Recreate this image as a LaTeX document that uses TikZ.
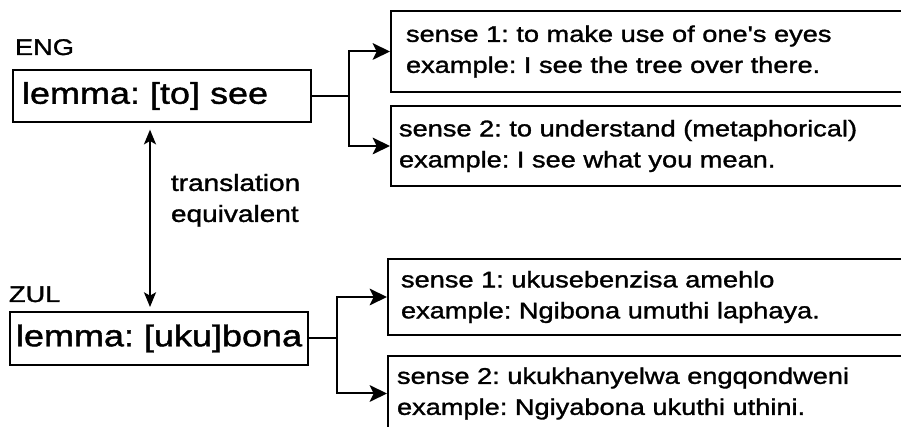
\documentclass[tikz,border=0pt]{standalone}
\usepackage{fontspec}
\setmainfont{Liberation Sans}[FakeStretch=1.2,FakeBold=1.4,Ligatures=TeXOff]
\usetikzlibrary{arrows.meta}
\usetikzlibrary{calc}

\begin{document}
\frenchspacing
\begin{tikzpicture}[x=0.75pt,y=-0.75pt,line width=1.5pt,
    box/.style={draw,anchor=north west,align=left,inner ysep=0pt},
    lemmabox/.style={box,font=\fontsize{22.5}{27}\selectfont},
    sensebox/.style={box,font=\fontsize{17}{23.25}\selectfont},
    langlabel/.style={anchor=base west,inner sep=0pt,font=\fontsize{17}{20}\selectfont},
    senseto/.style={-{Stealth[length=13pt,width=12.5pt,inset=3pt]}},
    twoway/.style={{Stealth[length=11pt,width=9pt,inset=2.5pt]}-{Stealth[length=11pt,width=9pt,inset=2.5pt]}}]
    \useasboundingbox (0,0) rectangle (901,427);
    \clip (0,0) rectangle (901,427);

    % English side
    \node[langlabel] (englabel) at (14,55) {ENG};
    \node[lemmabox,inner xsep=6.75pt,text width=210pt,minimum height=39pt] (englemma) at (12,69) {lemma: [to] see};
    \node[sensebox,inner xsep=11.25pt,text width=405pt,minimum height=60.75pt] (engsenseA) at (390,10)
        {sense 1: to make use of one's eyes\\example: I see the tree over there.};
    \node[sensebox,inner xsep=6pt,text width=415pt,minimum height=60pt] (engsenseB) at (390,105)
        {sense 2: to understand (metaphorical)\\example: I see what you mean.};

    \coordinate (engfork) at ($(englemma.east)+(37,0)$);
    \draw (englemma.east) -- (engfork);
    \draw[senseto] (engfork) |- (engsenseA.west);
    \draw[senseto] (engfork) |- (engsenseB.west);

    % Zulu side
    \node[langlabel] (zullabel) at (8,302) {ZUL};
    \node[lemmabox,inner xsep=4.5pt,text width=214.5pt,minimum height=39.75pt] (zullemma) at (9,311) {\mbox{lemma: [uku]bona}};
    \node[sensebox,inner xsep=9.75pt,text width=408pt,minimum height=57pt] (zulsenseA) at (387,258)
        {sense 1: ukusebenzisa amehlo\\example: Ngibona umuthi laphaya.};
    \node[sensebox,inner xsep=6.75pt,text width=414pt,minimum height=56.25pt] (zulsenseB) at (387,355)
        {sense 2: ukukhanyelwa engqondweni\\example: Ngiyabona ukuthi uthini.};

    \coordinate (zulfork) at ($(zullemma.east)+(28,0)$);
    \draw (zullemma.east) -- (zulfork);
    \draw[senseto] (zulfork) |- (zulsenseA.west);
    \draw[senseto] (zulfork) |- (zulsenseB.west);

    % translation link
    \draw[twoway,shorten <=5pt,shorten >=3pt] ($(englemma.south west)+(138,0)$) -- ($(zullemma.north west)+(141,0)$);
    \node[anchor=north west,align=left,inner sep=0pt,font=\fontsize{17.5}{23.25}\selectfont] (tequiv) at (170,173)
        {translation\\equivalent};
\end{tikzpicture}
\end{document}
